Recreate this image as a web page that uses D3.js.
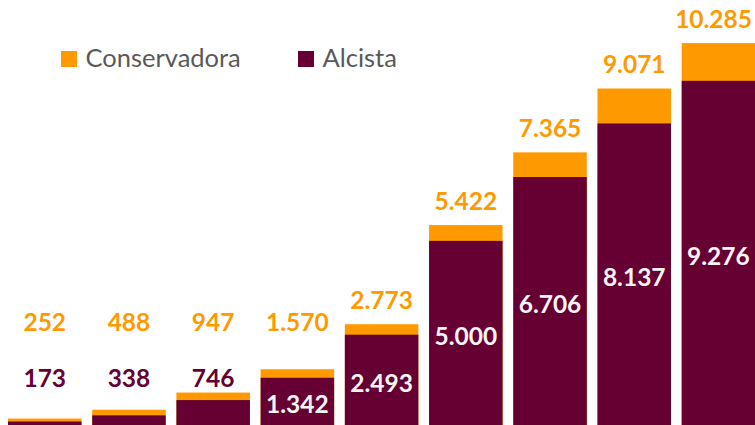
<!DOCTYPE html>
<html>
<head>
<meta charset="utf-8">
<script src="https://cdn.jsdelivr.net/npm/d3@7"></script>
<style>
  html, body { margin: 0; padding: 0; background: #fff; }
  svg { display: block; }
</style>
</head>
<body>
<svg id="chart" width="755" height="425"></svg>
<script>
// Periods (one bar pair each; not labelled on the axis)
const periods = ["P1", "P2", "P3", "P4", "P5", "P6", "P7", "P8", "P9"];
// Scenario values
const conservadora = [252, 488, 947, 1570, 2773, 5422, 7365, 9071, 10285];
const alcista = [173, 338, 746, 1342, 2493, 5000, 6706, 8137, 9276];
// Legend entries
const seriesNames = ["Conservadora", "Alcista"];

const COLORS = { cons: "#FF9900", alc: "#660033", legendText: "#595959", inside: "#F5F5F5" };
const FONT = "Lato, 'Open Sans', sans-serif";

const svg = d3.select("#chart");
const W = 755;

const fmt = d3.formatLocale({ decimal: ",", thousands: ".", grouping: [3], currency: ["", "€"] }).format(",d");

const x = d3.scaleBand().domain(periods).range([8, 755.2]).paddingInner(0.127).paddingOuter(0);
const y = d3.scaleLinear().domain([0, 11000]).range([428, 16.3]);

const rows = periods.map((p, i) => ({ p, c: conservadora[i], a: alcista[i] }));

// Overlapping bars: conservative total behind, bullish in front
const g = svg.append("g");
g.selectAll("rect.cons").data(rows).join("rect")
  .attr("class", "cons")
  .attr("x", d => x(d.p)).attr("width", x.bandwidth())
  .attr("y", d => y(d.c)).attr("height", d => y(0) - y(d.c))
  .attr("fill", COLORS.cons);

g.selectAll("rect.alc").data(rows).join("rect")
  .attr("class", "alc")
  .attr("x", d => x(d.p)).attr("width", x.bandwidth())
  .attr("y", d => y(d.a)).attr("height", d => y(0) - y(d.a))
  .attr("fill", COLORS.alc);

// Value labels
const LABEL_SIZE = 24.5;
const SMALL_BAR = 45; // bars shorter than this get their label above
const FLOOR_BASE = 331; // lowest baseline for the conservative labels

g.selectAll("text.cons").data(rows).join("text")
  .attr("class", "cons")
  .attr("x", d => x(d.p) + x.bandwidth() / 2)
  .attr("y", d => Math.min(y(d.c) - 15, FLOOR_BASE))
  .attr("text-anchor", "middle")
  .attr("font-family", FONT).attr("font-weight", 700).attr("font-size", LABEL_SIZE)
  .attr("fill", COLORS.cons)
  .text(d => fmt(d.c));

g.selectAll("text.alc").data(rows).join("text")
  .attr("class", "alc")
  .attr("x", d => x(d.p) + x.bandwidth() / 2)
  .attr("y", d => {
    const h = y(0) - y(d.a);
    if (h < SMALL_BAR) return 387;
    return (y(d.a) + y(0)) / 2 + 10.5;
  })
  .attr("text-anchor", "middle")
  .attr("font-family", FONT).attr("font-weight", 700).attr("font-size", LABEL_SIZE)
  .attr("fill", d => (y(0) - y(d.a)) < SMALL_BAR ? COLORS.alc : COLORS.inside)
  .text(d => fmt(d.a));

// Keep labels inside the right edge
g.selectAll("text").each(function () {
  const b = this.getBBox();
  const over = b.x + b.width - (W - 3);
  if (over > 0) d3.select(this).attr("x", +this.getAttribute("x") - over);
});

// Legend
const legend = svg.append("g");
const legendItems = [
  { name: seriesNames[0], color: COLORS.cons, x: 61 },
  { name: seriesNames[1], color: COLORS.alc, x: 298 }
];
const li = legend.selectAll("g").data(legendItems).join("g")
  .attr("transform", d => `translate(${d.x},51)`);
li.append("rect").attr("width", 16).attr("height", 16).attr("fill", d => d.color);
li.append("text")
  .attr("x", 24.5).attr("y", 16.3)
  .attr("font-family", FONT).attr("font-size", 25.5)
  .attr("fill", COLORS.legendText)
  .text(d => d.name);
</script>
</body>
</html>
